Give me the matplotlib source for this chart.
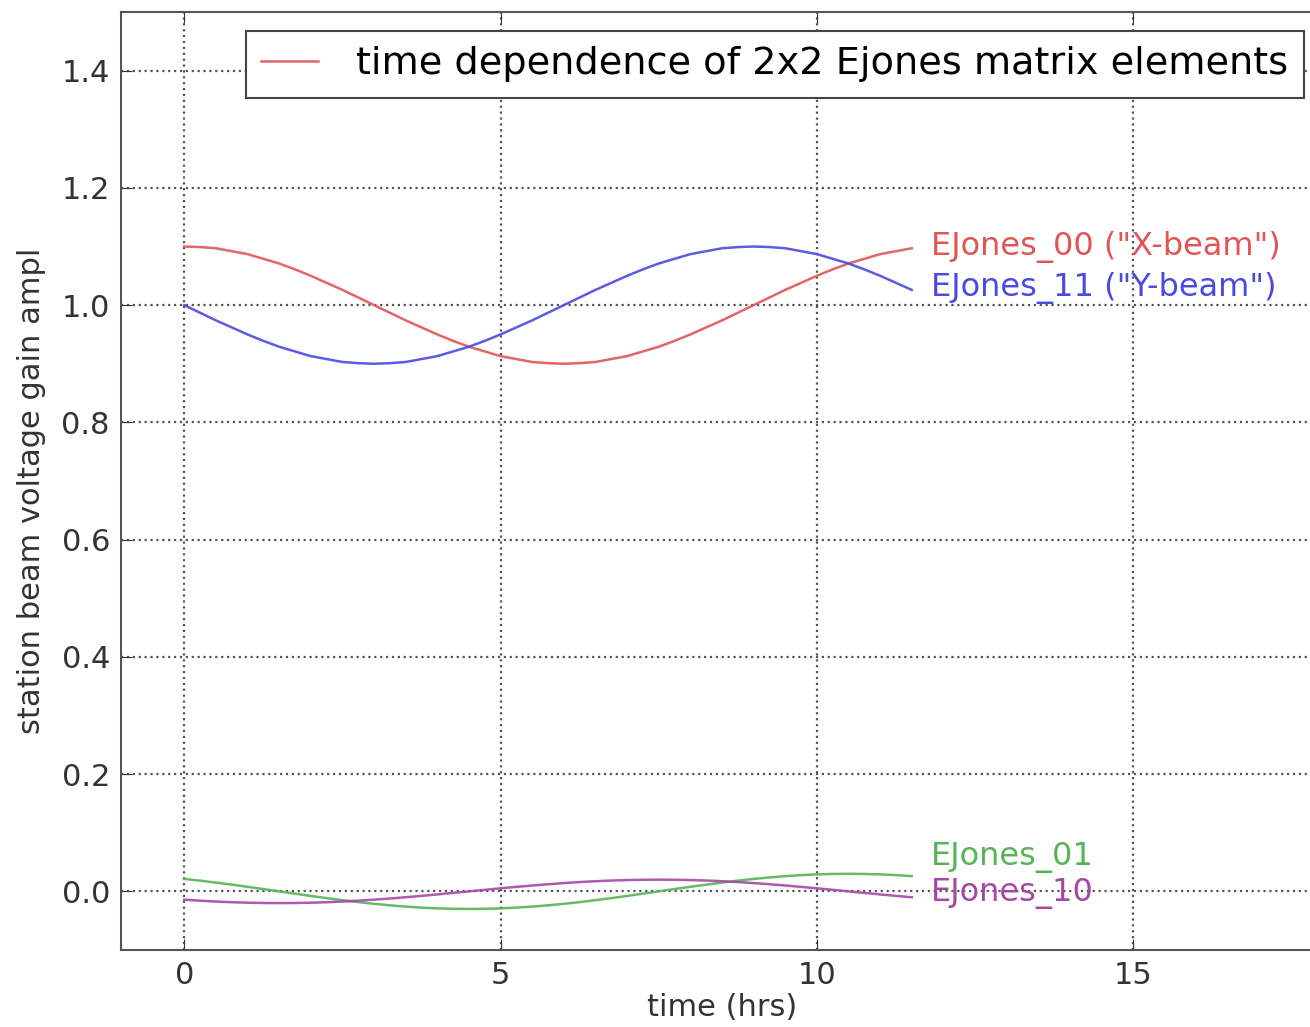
import numpy as np
import matplotlib.pyplot as plt

# time axis (hrs) and the four Ejones element amplitudes
t = np.arange(0, 11.75, 0.25)

ej00 = [1.100, 1.099, 1.097, 1.092, 1.087, 1.079, 1.071, 1.061, 1.050, 1.038, 1.026, 1.013,
        1.000, 0.987, 0.974, 0.962, 0.950, 0.939, 0.929, 0.921, 0.913, 0.908, 0.903, 0.901,
        0.900, 0.901, 0.903, 0.908, 0.913, 0.921, 0.929, 0.939, 0.950, 0.962, 0.974, 0.987,
        1.000, 1.013, 1.026, 1.038, 1.050, 1.061, 1.071, 1.079, 1.087, 1.092, 1.097]
ej11 = [1.000, 0.987, 0.974, 0.962, 0.950, 0.939, 0.929, 0.921, 0.913, 0.908, 0.903, 0.901,
        0.900, 0.901, 0.903, 0.908, 0.913, 0.921, 0.929, 0.939, 0.950, 0.962, 0.974, 0.987,
        1.000, 1.013, 1.026, 1.038, 1.050, 1.061, 1.071, 1.079, 1.087, 1.092, 1.097, 1.099,
        1.100, 1.099, 1.097, 1.092, 1.087, 1.079, 1.071, 1.061, 1.050, 1.038, 1.026]
ej01 = [0.0212, 0.0183, 0.0150, 0.0115, 0.0078, 0.0039, 0.0, -0.0039, -0.0078, -0.0115, -0.0150, -0.0183,
        -0.0212, -0.0238, -0.0260, -0.0277, -0.0290, -0.0297, -0.0300, -0.0297, -0.0290, -0.0277, -0.0260, -0.0238,
        -0.0212, -0.0183, -0.0150, -0.0115, -0.0078, -0.0039, 0.0, 0.0039, 0.0078, 0.0115, 0.0150, 0.0183,
        0.0212, 0.0238, 0.0260, 0.0277, 0.0290, 0.0297, 0.0300, 0.0297, 0.0290, 0.0277, 0.0260]
ej10 = [-0.0141, -0.0159, -0.0173, -0.0185, -0.0193, -0.0198, -0.0200, -0.0198, -0.0193, -0.0185, -0.0173, -0.0159,
        -0.0141, -0.0122, -0.0100, -0.0077, -0.0052, -0.0026, 0.0, 0.0026, 0.0052, 0.0077, 0.0100, 0.0122,
        0.0141, 0.0159, 0.0173, 0.0185, 0.0193, 0.0198, 0.0200, 0.0198, 0.0193, 0.0185, 0.0173, 0.0159,
        0.0141, 0.0122, 0.0100, 0.0077, 0.0052, 0.0026, 0.0, -0.0026, -0.0052, -0.0077, -0.0100]

names = ['EJones_00 ("X-beam")', 'EJones_11 ("Y-beam")', 'EJones_01', 'EJones_10']
label_y = [1.10, 1.03, 0.058, -0.003]
colors = ['#e05555', '#4a4ae0', '#55b455', '#a548a5']

fig = plt.figure(figsize=(13.1, 10.27), dpi=100)
ax = fig.add_axes([121 / 1310, 77 / 1027, 1202 / 1310, 938 / 1027])

series = [ej00, ej11, ej01, ej10]
for i, (y, c) in enumerate(zip(series, colors)):
    lab = 'time dependence of 2x2 Ejones matrix elements' if i == 0 else None
    ax.plot(t, y, color=c, lw=1.8, label=lab, alpha=0.9)
    ax.text(t[-1] + 0.3, label_y[i], names[i], color=c, fontsize=23, va='center')

ax.set_xlim(-1, 18)
ax.set_ylim(-0.1, 1.5)
ax.set_xticks([0, 5, 10, 15])
ax.set_yticks(np.arange(0, 1.41, 0.2))
ax.set_yticklabels(['%.1f' % v for v in np.arange(0, 1.41, 0.2)])
ax.grid(True, color='#555555', linestyle=':', linewidth=1.6)
ax.tick_params(direction='in', length=8, labelsize=22, colors='#333333', top=True, right=True, pad=8)
for s in ax.spines.values():
    s.set_color('#555555')
    s.set_linewidth(1.5)

ax.set_xlabel('time (hrs)', fontsize=22, color='#333333', labelpad=2)
ax.set_ylabel('station beam voltage gain ampl', fontsize=22, color='#333333')
ax.yaxis.set_label_coords(-0.062, 0.49)

leg = ax.legend(loc='upper right', fontsize=27.5, fancybox=False, framealpha=1,
                borderaxespad=0.5, borderpad=0.4, handlelength=1.5, handletextpad=1.0)
leg.get_frame().set_edgecolor('#444444')
leg.get_frame().set_linewidth(1.5)

fig.savefig('out.png', dpi=100)
